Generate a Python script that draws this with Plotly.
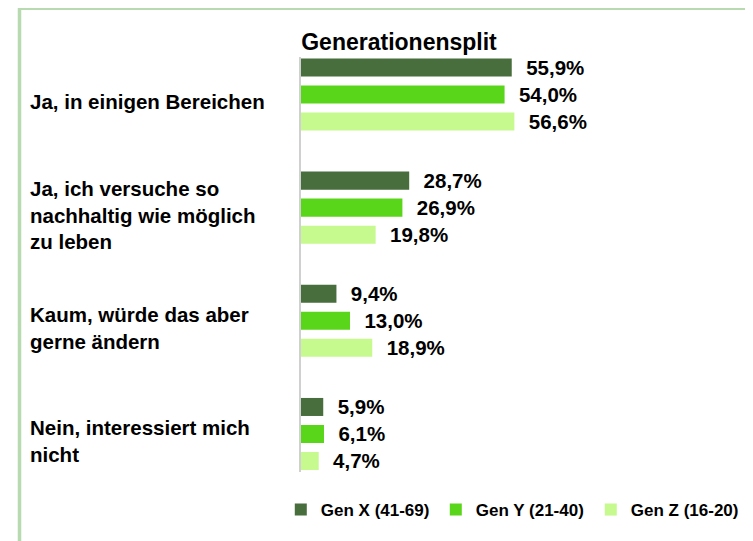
import plotly.graph_objects as go

categories = [
    "Ja, in einigen Bereichen",
    "Ja, ich versuche so<br>nachhaltig wie möglich<br>zu leben",
    "Kaum, würde das aber<br>gerne ändern",
    "Nein, interessiert mich<br>nicht",
]
series_names = ["Gen X (41-69)", "Gen Y (21-40)", "Gen Z (16-20)"]
gen_x = [55.9, 28.7, 9.4, 5.9]
gen_y = [54.0, 26.9, 13.0, 6.1]
gen_z = [56.6, 19.8, 18.9, 4.7]
colors = ["#476e3c", "#5ad61a", "#c6fa8e"]
title_text = "Generationensplit"

FONT = "Liberation Sans, Arial, sans-serif"

fig = go.Figure()
for name, vals, col in zip(series_names, [gen_x, gen_y, gen_z], colors):
    fig.add_trace(go.Bar(
        y=categories, x=vals, name=name, orientation="h",
        marker=dict(color=col, line=dict(width=0)),
        texttemplate="\u00a0\u00a0%{x:.1f}%",
        textposition="outside",
        constraintext="none",
        cliponaxis=False,
        textfont=dict(family=FONT, size=20.5, color="#000000", weight="bold"),
    ))

for cat in categories:
    fig.add_annotation(
        x=-0.724, xref="paper", y=cat, yref="y",
        text=cat, showarrow=False, xanchor="left", yanchor="middle", align="left",
        yshift=-7,
        font=dict(family=FONT, size=20.5, color="#000000", weight="bold"),
    )

# outer light-green frame (only top and left edges are visible)
fig.add_shape(type="rect", xref="paper", yref="paper",
              x0=-0.7467, x1=1.3, y0=-0.25, y1=1.1175,
              line=dict(color="#b8dab0", width=3.5), fillcolor="rgba(0,0,0,0)", layer="below")

fig.update_layout(
    width=753, height=541,
    margin=dict(l=293, r=83, t=49, b=77),
    paper_bgcolor="white", plot_bgcolor="white",
    separators=",.",
    barmode="group", bargap=0.284, bargroupgap=0.333,
    font=dict(family=FONT, color="#000000"),
    title=dict(text=title_text, x=0.26, xref="paper", xanchor="center",
               y=1 - 34 / 541, yanchor="middle",
               font=dict(family=FONT, size=23, color="#000000", weight="bold")),
    xaxis=dict(range=[0, 100], visible=False, fixedrange=True),
    yaxis=dict(range=[3.336, -0.331], showticklabels=False, showline=True,
               linecolor="#d0d0d0", linewidth=2, ticks="", showgrid=False,
               zeroline=False),
    showlegend=True,
    legend=dict(orientation="h", x=-0.0536, xanchor="left", y=-0.0916, yanchor="middle",
                traceorder="normal", entrywidth=110,
                font=dict(family=FONT, size=17, color="#000000", weight="bold")),
)

fig.write_html("out.html")
